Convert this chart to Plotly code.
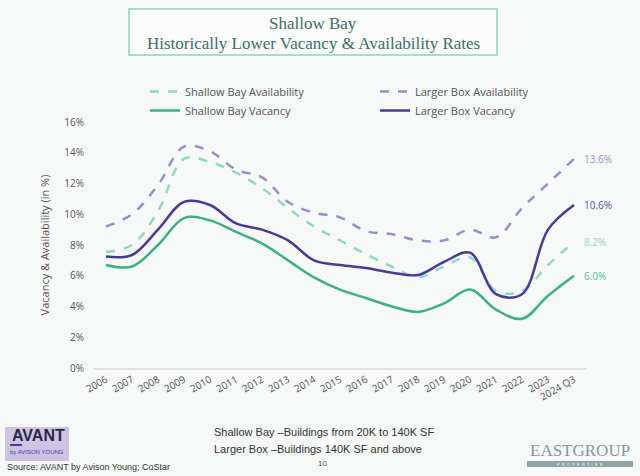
import plotly.graph_objects as go

years = ["2006", "2007", "2008", "2009", "2010", "2011", "2012", "2013", "2014", "2015",
         "2016", "2017", "2018", "2019", "2020", "2021", "2022", "2023", "2024 Q3"]

sb_availability = [7.55, 8.0, 10.2, 13.6, 13.4, 12.7, 11.7, 10.4, 9.2, 8.3,
                   7.4, 6.6, 5.9, 6.6, 7.2, 5.0, 5.0, 6.7, 8.2]
lb_availability = [9.2, 10.0, 11.9, 14.4, 14.1, 12.9, 12.4, 10.8, 10.1, 9.8,
                   8.9, 8.7, 8.3, 8.3, 9.0, 8.5, 10.4, 12.0, 13.6]
sb_vacancy = [6.7, 6.6, 8.0, 9.75, 9.6, 8.85, 8.1, 7.0, 5.9, 5.1,
              4.55, 4.0, 3.65, 4.2, 5.1, 3.8, 3.2, 4.7, 6.0]
lb_vacancy = [7.25, 7.35, 9.0, 10.8, 10.6, 9.4, 9.0, 8.3, 7.0, 6.7,
              6.5, 6.2, 6.05, 6.9, 7.5, 4.8, 4.8, 9.0, 10.6]

end_labels = ["13.6%", "10.6%", "8.2%", "6.0%"]
yticks = [0, 2, 4, 6, 8, 10, 12, 14, 16]
ytick_text = [f"{v}%" for v in yticks]

c_sb_av = "#93d8c4"
c_sb_vac = "#3bb08a"
c_lb_av = "#998fcb"
c_lb_vac = "#4a3a98"

W, H = 640, 476
ml, mr, mt, mb = 93, 53, 122, 108
pw, ph = W - ml - mr, H - mt - mb


def px2paper_x(px):
    return (px - ml) / pw


def px2paper_y(py):
    return (H - mb - py) / ph


fig = go.Figure()
fig.add_trace(go.Scatter(x=years, y=sb_availability, name="Shallow Bay Availability", mode="lines",
                         line=dict(color=c_sb_av, width=2.5, dash="dash", shape="spline", smoothing=1),
                         legend="legend"))
fig.add_trace(go.Scatter(x=years, y=sb_vacancy, name="Shallow Bay Vacancy", mode="lines",
                         line=dict(color=c_sb_vac, width=2.5, shape="spline", smoothing=1),
                         legend="legend"))
fig.add_trace(go.Scatter(x=years, y=lb_availability, name="Larger Box Availability", mode="lines",
                         line=dict(color=c_lb_av, width=2.5, dash="dash", shape="spline", smoothing=1),
                         legend="legend2"))
fig.add_trace(go.Scatter(x=years, y=lb_vacancy, name="Larger Box Vacancy", mode="lines",
                         line=dict(color=c_lb_vac, width=2.5, shape="spline", smoothing=1),
                         legend="legend2"))

annotations = []
for val, txt, col in zip([lb_availability[-1], lb_vacancy[-1], sb_availability[-1], sb_vacancy[-1]],
                         end_labels, ["#9a91c9", "#5b4fa3", "#9ad6c4", "#5cbf9c"]):
    annotations.append(dict(x=years[-1], y=val, xref="x", yref="y", text=txt, showarrow=False,
                            xanchor="left", xshift=8, font=dict(size=10, color=col, family="Open Sans")))


def pxnote(px, py, text, font, xanchor="center"):
    annotations.append(dict(xref="paper", yref="paper", x=px2paper_x(px), y=px2paper_y(py),
                            xanchor=xanchor, yanchor="middle", showarrow=False, text=text, font=font))


title_font = dict(family="Liberation Serif", size=17, color="#3b6e6a")
pxnote(313, 23, "Shallow Bay", title_font)
pxnote(313, 44, "Historically Lower Vacancy &amp; Availability Rates", title_font)
foot_font = dict(family="Liberation Sans Narrow, Liberation Sans", size=11, color="#333")
pxnote(212, 432, "Shallow Bay \u2013Buildings from 20K to 140K SF", foot_font, "left")
pxnote(212, 449, "Larger Box \u2013Buildings 140K SF and above", foot_font, "left")
pxnote(322, 463, "10", dict(family="Liberation Sans", size=8, color="#555"))
pxnote(5, 467, "Source: AVANT by Avison Young; CoStar",
       dict(family="Liberation Sans Narrow, Liberation Sans", size=9, color="#333"), "left")
pxnote(38, 435, "<b>AVANT</b>", dict(family="Liberation Sans", size=16, color="#2b2740"))
pxnote(37, 452, "by AVISON YOUNG", dict(family="Liberation Sans", size=6, color="#4a3a98"))
pxnote(580, 450, "EASTGROUP", dict(family="Liberation Serif", size=17, color="#7f9a9a"))
pxnote(580, 464, "P  R  O  P  E  R  T  I  E  S", dict(family="Liberation Sans", size=4, color="#ffffff"))

shapes = [
    dict(type="rect", xref="paper", yref="paper",
         x0=px2paper_x(129), x1=px2paper_x(497), y0=px2paper_y(55), y1=px2paper_y(9),
         line=dict(color="#8fd3bd", width=1.5), fillcolor="rgba(255,255,255,0.6)", layer="below"),
    dict(type="rect", xref="paper", yref="paper",
         x0=px2paper_x(5), x1=px2paper_x(69), y0=px2paper_y(461), y1=px2paper_y(427),
         line=dict(width=0), fillcolor="#cdc3e3", layer="below"),
    dict(type="line", xref="paper", yref="paper",
         x0=px2paper_x(10), x1=px2paper_x(22), y0=px2paper_y(445), y1=px2paper_y(445),
         line=dict(color="#4a3a98", width=2)),
    dict(type="rect", xref="paper", yref="paper",
         x0=px2paper_x(527), x1=px2paper_x(633), y0=px2paper_y(467), y1=px2paper_y(461),
         line=dict(width=0), fillcolor="#8fa3a3", layer="below"),
]

fig.update_layout(
    width=W, height=H,
    margin=dict(l=ml, r=mr, t=mt, b=mb),
    paper_bgcolor="#f7f8f8",
    plot_bgcolor="rgba(0,0,0,0)",
    font=dict(family="Open Sans", size=10, color="#555"),
    xaxis=dict(type="category", range=[-0.5, 18.5], showgrid=False, zeroline=False,
               showline=True, linecolor="#e2e2e2", linewidth=2, tickangle=-30,
               tickfont=dict(size=10, color="#555"), ticks=""),
    yaxis=dict(range=[0, 16], tickvals=yticks, ticktext=ytick_text, showgrid=False,
               zeroline=False, showline=False, tickfont=dict(size=10, color="#555"),
               ticks="outside", ticklen=6, tickcolor="rgba(0,0,0,0)",
               title=dict(text="Vacancy &amp; Availability (in %)", font=dict(size=11, color="#555"),
                          standoff=12)),
    legend=dict(x=px2paper_x(145), y=px2paper_y(77), xanchor="left", yanchor="top",
                orientation="v", bgcolor="rgba(0,0,0,0)", font=dict(size=11, color="#555"),
                tracegroupgap=0, itemwidth=30),
    legend2=dict(x=px2paper_x(375), y=px2paper_y(77), xanchor="left", yanchor="top",
                 orientation="v", bgcolor="rgba(0,0,0,0)", font=dict(size=11, color="#555"),
                 tracegroupgap=0, itemwidth=30),
    annotations=annotations,
    shapes=shapes,
)

fig.write_html("out.html", config={"displayModeBar": False},
               post_script="document.body.style.margin='0';")
